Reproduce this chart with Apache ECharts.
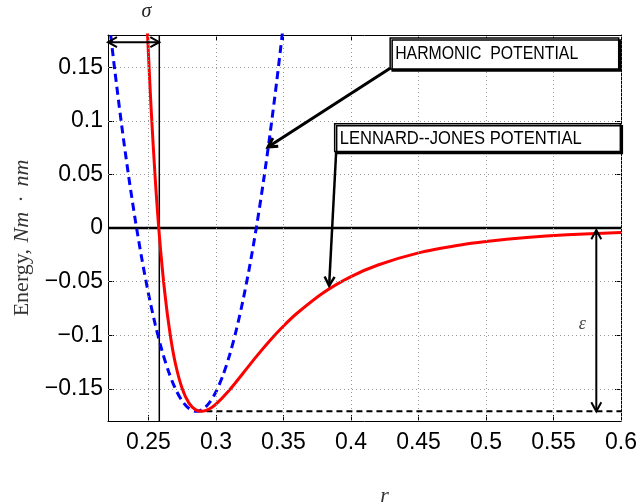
<!DOCTYPE html>
<html>
<head>
<meta charset="utf-8">
<script src="https://cdn.jsdelivr.net/npm/echarts@6/dist/echarts.min.js"></script>
<style>html,body{margin:0;padding:0;background:#fff}#main{width:640px;height:504px}</style>
</head>
<body>
<div id="main"></div>
<script>
// ---- axis ranges and tick labels ----
const xMin = 0.22, xMax = 0.6, yMin = -0.18, yMax = 0.18;
const xTickValues = [0.25, 0.3, 0.35, 0.4, 0.45, 0.5, 0.55, 0.6];
const yTickValues = [-0.15, -0.1, -0.05, 0, 0.05, 0.1, 0.15];

// ---- Lennard-Jones potential (red) ----
const ljR = [0.249, 0.25, 0.252, 0.255, 0.258, 0.262, 0.266, 0.27, 0.275, 0.28, 0.285, 0.29, 0.295, 0.3, 0.31, 0.32, 0.33, 0.34, 0.35, 0.36, 0.38, 0.4, 0.42, 0.45, 0.48, 0.5, 0.53, 0.56, 0.6];
const ljE = [0.1895, 0.1611, 0.1100, 0.0457, -0.0063, -0.0597, -0.0988, -0.1268, -0.1499, -0.1633, -0.1696, -0.1709, -0.1688, -0.1643, -0.1511, -0.1355, -0.1197, -0.1049, -0.0914, -0.0795, -0.0599, -0.0453, -0.0345, -0.0232, -0.0160, -0.0126, -0.0089, -0.0064, -0.0043];

// ---- Harmonic potential (blue dashed) ----
const harmR = [0.222, 0.225, 0.23, 0.235, 0.24, 0.245, 0.25, 0.255, 0.26, 0.265, 0.27, 0.275, 0.28, 0.2855, 0.29, 0.295, 0.3, 0.305, 0.31, 0.315, 0.32, 0.325, 0.33, 0.335, 0.34, 0.345, 0.35];
const harmE = [0.1798, 0.1474, 0.097, 0.0509, 0.0091, -0.0283, -0.0614, -0.0901, -0.1144, -0.1344, -0.1501, -0.1614, -0.1684, -0.171, -0.1692, -0.1631, -0.1527, -0.1379, -0.1188, -0.0953, -0.0674, -0.0353, 0.0013, 0.0422, 0.0874, 0.137, 0.1909];

// ---- reference lines ----
const sigma = 0.258;
const epsilon = 0.171;
const rMinimum = 0.2855;

// ---- annotations (data coordinates) ----
const sigmaArrow = [[0.22, 0.1733], [0.258, 0.1733]];
const epsArrow = [[0.5817, -0.002], [0.5817, -0.171]];
const harmArrow = [[0.429, 0.149], [0.3385, 0.0755]];
const ljArrow = [[0.389, 0.0711], [0.3838, -0.0538]];
const harmBox = [[0.429, 0.1773], [0.5983, 0.1484]];
const ljBox = [[0.3879, 0.0972], [0.5995, 0.0714]];
const harmText = 'HARMONIC  POTENTIAL';
const ljText = 'LENNARD--JONES POTENTIAL';
const sigmaLabelPos = [0.2484, 0.2016];
const epsLabelPos = [0.5714, -0.09];

const sansFont = '"Liberation Sans Narrow", "Liberation Sans", Arial, sans-serif';
const serifFont = '"Liberation Serif", "DejaVu Serif", serif';
const fmt = v => String(Math.round(v * 100) / 100).replace('-', '\u2212');

const chart = echarts.init(document.getElementById('main'), null, { renderer: 'canvas' });

function axisX(pos, main) {
  return {
    type: 'value', min: xMin, max: xMax, position: pos,
    axisLine: { show: true, onZero: false, lineStyle: { color: '#000', width: 1 } },
    axisTick: { show: true, inside: true, length: 6, customValues: xTickValues, lineStyle: { color: '#000', width: 1 } },
    axisLabel: main ? { show: true, customValues: xTickValues, formatter: fmt, color: '#000', fontSize: 23, fontFamily: sansFont, margin: 10 } : { show: false },
    splitLine: { show: false }
  };
}
function axisY(pos, main) {
  return {
    type: 'value', min: yMin, max: yMax, position: pos,
    axisLine: { show: true, onZero: false, lineStyle: { color: '#000', width: 1 } },
    axisTick: { show: true, inside: true, length: 6, customValues: yTickValues, lineStyle: { color: '#000', width: 1 } },
    axisLabel: main ? { show: true, customValues: yTickValues, formatter: fmt, color: '#000', fontSize: 23, fontFamily: sansFont, margin: 5 } : { show: false },
    splitLine: { show: false }
  };
}

const zip = (a, b) => a.map((v, i) => [v, b[i]]);

chart.setOption({
  animation: false,
  backgroundColor: '#fff',
  grid: { left: 108, top: 35, right: 13, bottom: 83 },
  xAxis: [axisX('bottom', true), axisX('top', false)],
  yAxis: [axisY('left', true), axisY('right', false)],
  series: [
    { type: 'line', data: [], silent: true, z: 1,
      markLine: { silent: true, symbol: ['none', 'none'], label: { show: false },
        lineStyle: { color: '#999', type: [1, 3], width: 1 }, emphasis: { disabled: true },
        data: xTickValues.map(v => ({ xAxis: v })).concat(yTickValues.filter(v => v !== 0).map(v => ({ yAxis: v }))) } },
    { type: 'line', data: [[xMin, 0], [xMax, 0]], showSymbol: false, silent: true,
      lineStyle: { color: '#000', width: 2.5 }, z: 2 },
    { type: 'line', data: [[sigma, yMin], [sigma, yMax]], showSymbol: false, silent: true,
      lineStyle: { color: '#000', width: 1.5 }, z: 2 },
    { type: 'line', data: [[rMinimum, -epsilon], [xMax, -epsilon]], showSymbol: false, silent: true,
      lineStyle: { color: '#000', width: 2, type: [6, 4] }, z: 2 },
    { type: 'line', name: 'Harmonic', data: zip(harmR, harmE), showSymbol: false, smooth: 0.3,
      lineStyle: { color: '#0000ff', width: 3, type: [8, 5] }, z: 3 },
    { type: 'line', name: 'Lennard-Jones', data: zip(ljR, ljE), showSymbol: false, smooth: 0.3,
      lineStyle: { color: '#ff0000', width: 3 }, z: 4 }
  ]
});

const px = p => chart.convertToPixel({ gridIndex: 0 }, p);

function arrowHead(from, to, L, W, lw) {
  const dx = to[0] - from[0], dy = to[1] - from[1];
  const len = Math.hypot(dx, dy), ux = dx / len, uy = dy / len;
  const nx = -uy, ny = ux;
  return {
    type: 'polyline', z: 20,
    shape: { points: [[to[0] - L * ux + W * nx, to[1] - L * uy + W * ny], to, [to[0] - L * ux - W * nx, to[1] - L * uy - W * ny]] },
    style: { stroke: '#000', lineWidth: lw, fill: null }
  };
}
function arrow(seg, lw, both) {
  const a = px(seg[0]), b = px(seg[1]);
  const els = [{ type: 'line', z: 20, shape: { x1: a[0], y1: a[1], x2: b[0], y2: b[1] }, style: { stroke: '#000', lineWidth: lw } }];
  els.push(arrowHead(a, b, 9, 5, lw));
  if (both) els.push(arrowHead(b, a, 9, 5, lw));
  return els;
}
function box(corners, text, sx) {
  const a = px(corners[0]), b = px(corners[1]);
  return [
    { type: 'rect', z: 30, shape: { x: a[0], y: a[1], width: b[0] - a[0], height: b[1] - a[1] },
      style: { fill: '#fff', stroke: '#000', lineWidth: 1.5, shadowBlur: 0, shadowOffsetX: 2, shadowOffsetY: 2, shadowColor: '#000' } },
    { type: 'text', z: 31, x: a[0] + 5, y: (a[1] + b[1]) / 2 + 1, scaleX: sx,
      style: { text: text, fontSize: 18, fontFamily: '"Liberation Sans", Arial, sans-serif', fill: '#000', align: 'left', verticalAlign: 'middle' } }
  ];
}

const g = [];
g.push(...arrow(sigmaArrow, 2, true));
g.push(...arrow(epsArrow, 2, true));
g.push(...arrow(harmArrow, 3, false));
g.push(...arrow(ljArrow, 2.5, false));
g.push(...box(harmBox, harmText, 0.88));
g.push(...box(ljBox, ljText, 0.92));
const sp = px(sigmaLabelPos), ep = px(epsLabelPos);
g.push({ type: 'text', z: 40, x: sp[0], y: sp[1], style: { text: '\u03c3', fontSize: 20, fontStyle: 'italic', fontFamily: serifFont, fill: '#222', align: 'center', verticalAlign: 'middle' } });
g.push({ type: 'text', z: 40, x: ep[0], y: ep[1], style: { text: '\u03b5', fontSize: 18, fontStyle: 'italic', fontFamily: serifFont, fill: '#444', align: 'center', verticalAlign: 'middle' } });
// axis titles
const corner0 = px([xMin, yMin]), corner1 = px([xMax, yMax]);
g.push({ type: 'text', z: 40, x: 22, y: (corner0[1] + corner1[1]) / 2 + 10, rotation: Math.PI / 2,
  style: { text: '{a|Energy,}  {b|Nm \u2009\u00b7\u2009 nm}', align: 'center', verticalAlign: 'middle', fill: '#333',
    rich: { a: { fontFamily: serifFont, fontSize: 22, fill: '#333' }, b: { fontFamily: serifFont, fontSize: 22, fontStyle: 'italic', fill: '#333' } } } });
g.push({ type: 'text', z: 40, x: (corner0[0] + corner1[0]) / 2 + 20, y: 496,
  style: { text: 'r', fontSize: 22, fontStyle: 'italic', fontFamily: serifFont, fill: '#333', align: 'center', verticalAlign: 'middle' } });

chart.setOption({ graphic: g });
</script>
</body>
</html>
